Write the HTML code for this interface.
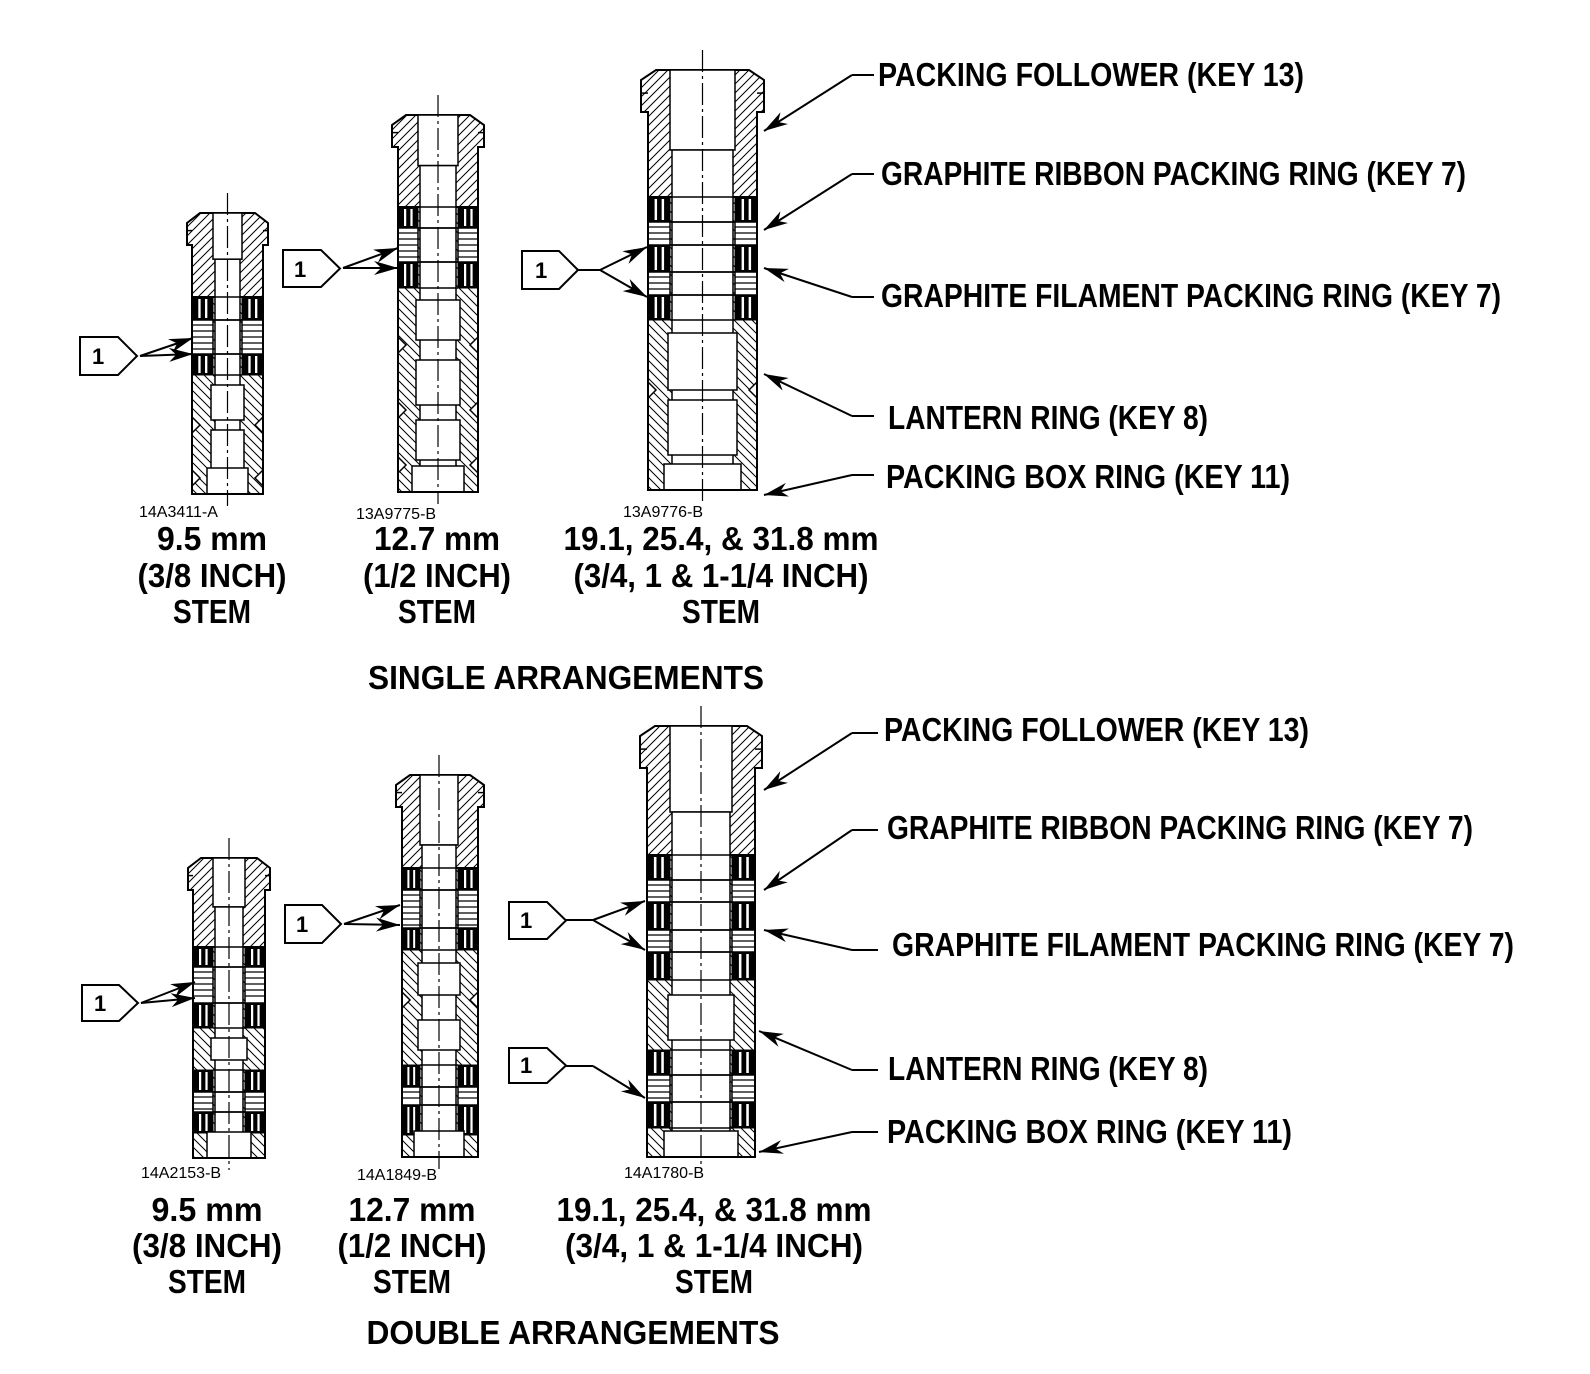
<!DOCTYPE html>
<html><head><meta charset="utf-8">
<style>
html,body{margin:0;padding:0;background:#fff;}
svg{display:block;}
.lb{font-family:"Liberation Sans Narrow","Liberation Sans",sans-serif;font-weight:bold;font-size:33px;fill:#000;}
.dn{font-family:"Liberation Sans",sans-serif;font-size:16px;fill:#000;}
.c1{font-family:"Liberation Sans",sans-serif;font-weight:bold;font-size:22px;fill:#000;}
</style></head>
<body>
<svg id="s" width="1590" height="1374" viewBox="0 0 1590 1374" xmlns="http://www.w3.org/2000/svg">
<defs>
<pattern id="h" patternUnits="userSpaceOnUse" width="9" height="9">
<path d="M-1,1 L1,-1 M0,9 L9,0 M8,10 L10,8" stroke="#000" stroke-width="1"/>
</pattern>
<pattern id="h2" patternUnits="userSpaceOnUse" width="9" height="9">
<path d="M-1,8 L1,10 M0,0 L9,9 M8,-1 L10,1" stroke="#000" stroke-width="1"/>
</pattern>
</defs>
<g id="draw"></g>

<text class="lb" x="878" y="86" textLength="426" lengthAdjust="spacingAndGlyphs">PACKING FOLLOWER (KEY 13)</text>
<text class="lb" x="881" y="185" textLength="585" lengthAdjust="spacingAndGlyphs">GRAPHITE RIBBON PACKING RING (KEY 7)</text>
<text class="lb" x="881" y="307" textLength="620" lengthAdjust="spacingAndGlyphs">GRAPHITE FILAMENT PACKING RING (KEY 7)</text>
<text class="lb" x="888" y="429" textLength="320" lengthAdjust="spacingAndGlyphs">LANTERN RING (KEY 8)</text>
<text class="lb" x="886" y="488" textLength="404" lengthAdjust="spacingAndGlyphs">PACKING BOX RING (KEY 11)</text>
<text class="lb" x="884" y="741" textLength="425" lengthAdjust="spacingAndGlyphs">PACKING FOLLOWER (KEY 13)</text>
<text class="lb" x="887" y="839" textLength="586" lengthAdjust="spacingAndGlyphs">GRAPHITE RIBBON PACKING RING (KEY 7)</text>
<text class="lb" x="892" y="956" textLength="622" lengthAdjust="spacingAndGlyphs">GRAPHITE FILAMENT PACKING RING (KEY 7)</text>
<text class="lb" x="888" y="1080" textLength="320" lengthAdjust="spacingAndGlyphs">LANTERN RING (KEY 8)</text>
<text class="lb" x="887" y="1143" textLength="405" lengthAdjust="spacingAndGlyphs">PACKING BOX RING (KEY 11)</text>

<text class="dn" x="139" y="517">14A3411-A</text>
<text class="dn" x="356" y="519">13A9775-B</text>
<text class="dn" x="623" y="517">13A9776-B</text>
<text class="dn" x="141" y="1178">14A2153-B</text>
<text class="dn" x="357" y="1180">14A1849-B</text>
<text class="dn" x="624" y="1178">14A1780-B</text>

<g class="lb" text-anchor="middle">
<text x="212" y="550" textLength="110" lengthAdjust="spacingAndGlyphs">9.5 mm</text>
<text x="212" y="587" textLength="149" lengthAdjust="spacingAndGlyphs">(3/8 INCH)</text>
<text x="212" y="623" textLength="78" lengthAdjust="spacingAndGlyphs">STEM</text>
<text x="437" y="550" textLength="126" lengthAdjust="spacingAndGlyphs">12.7 mm</text>
<text x="437" y="587" textLength="148" lengthAdjust="spacingAndGlyphs">(1/2 INCH)</text>
<text x="437" y="623" textLength="78" lengthAdjust="spacingAndGlyphs">STEM</text>
<text x="721" y="550" textLength="315" lengthAdjust="spacingAndGlyphs">19.1, 25.4, &amp; 31.8 mm</text>
<text x="721" y="587" textLength="295" lengthAdjust="spacingAndGlyphs">(3/4, 1 &amp; 1-1/4 INCH)</text>
<text x="721" y="623" textLength="78" lengthAdjust="spacingAndGlyphs">STEM</text>
<text x="566" y="689" textLength="396" lengthAdjust="spacingAndGlyphs">SINGLE ARRANGEMENTS</text>
<text x="207" y="1221" textLength="111" lengthAdjust="spacingAndGlyphs">9.5 mm</text>
<text x="207" y="1257" textLength="150" lengthAdjust="spacingAndGlyphs">(3/8 INCH)</text>
<text x="207" y="1293" textLength="78" lengthAdjust="spacingAndGlyphs">STEM</text>
<text x="412" y="1221" textLength="127" lengthAdjust="spacingAndGlyphs">12.7 mm</text>
<text x="412" y="1257" textLength="149" lengthAdjust="spacingAndGlyphs">(1/2 INCH)</text>
<text x="412" y="1293" textLength="78" lengthAdjust="spacingAndGlyphs">STEM</text>
<text x="714" y="1221" textLength="315" lengthAdjust="spacingAndGlyphs">19.1, 25.4, &amp; 31.8 mm</text>
<text x="714" y="1257" textLength="298" lengthAdjust="spacingAndGlyphs">(3/4, 1 &amp; 1-1/4 INCH)</text>
<text x="714" y="1293" textLength="78" lengthAdjust="spacingAndGlyphs">STEM</text>
<text x="573" y="1344" textLength="413" lengthAdjust="spacingAndGlyphs">DOUBLE ARRANGEMENTS</text>
</g>

<g id="calls"></g>
<text class="c1" x="92" y="364">1</text>
<text class="c1" x="294" y="277">1</text>
<text class="c1" x="535" y="278">1</text>
<text class="c1" x="94" y="1011">1</text>
<text class="c1" x="296" y="932">1</text>
<text class="c1" x="520" y="928">1</text>
<text class="c1" x="520" y="1073">1</text>
</svg>
<script>
var NS="http://www.w3.org/2000/svg";
var G=document.getElementById("draw");
function el(t,a,p){var e=document.createElementNS(NS,t);for(var k in a)e.setAttribute(k,a[k]);(p||G).appendChild(e);return e;}
function rect(x,y,w,h,f,sw){return el("rect",{x:x,y:y,width:w,height:h,fill:f||"none",stroke:"#000","stroke-width":sw==null?1.5:sw});}
function line(x1,y1,x2,y2,sw,da){var a={x1:x1,y1:y1,x2:x2,y2:y2,stroke:"#000","stroke-width":sw||1.5};if(da)a["stroke-dasharray"]=da;return el("line",a);}
function stem(o){
 var L=o.L,R=o.R,T=o.T,B=o.B,bl=o.bl,br=o.br,h=o.h,e=o.e||6;
 el("path",{d:"M"+(L-e)+","+(T+h)+" L"+(L-e)+","+(T+10)+" L"+(L+8)+","+T+" L"+(R-8)+","+T+" L"+(R+e)+","+(T+10)+" L"+(R+e)+","+(T+h)+" L"+R+","+(T+h)+" L"+R+","+B+" L"+L+","+B+" L"+L+","+(T+h)+" Z",fill:"url(#h)",stroke:"#000","stroke-width":2});
 line(L-e,T+h*0.55,L,T+h*0.55,1.5);line(R,T+h*0.55,R+e,T+h*0.55,1.5);
 var firstRing=o.rings[0][1];
 el("rect",{x:L,y:firstRing,width:R-L,height:B-firstRing,fill:"#fff"});
 rect(L,firstRing,R-L,B-firstRing,"url(#h2)",2);
 var bt=o.bt||(T+(firstRing-T)*0.55);
 rect(bl,T,br-bl,bt-T,"#fff",1.5);
 rect(bl+2,bt,br-bl-4,B-bt,"#fff",1.5);
 for(var i=0;i<o.bulges.length;i++){var b=o.bulges[i];rect(bl-2,b[0],br-bl+4,b[1]-b[0],"#fff",1.5);}
 for(var i=0;i<o.notch.length;i++){var y=o.notch[i];
   el("path",{d:"M"+L+","+(y-8)+" L"+(L+8)+","+y+" L"+L+","+(y+8)+" Z",fill:"#fff",stroke:"#000","stroke-width":1.5});
   el("path",{d:"M"+R+","+(y-8)+" L"+(R-8)+","+y+" L"+R+","+(y+8)+" Z",fill:"#fff",stroke:"#000","stroke-width":1.5});}
 for(var i=0;i<o.rings.length;i++){var r=o.rings[i],y0=r[1],y1=r[2];
  [[L,bl],[br,R]].forEach(function(s){var x0=s[0],w=s[1]-s[0];
   if(r[0]=="F"){rect(x0,y0,w,y1-y0,"#000",1);
     var sw=Math.max(2,w/9);
     [0.3,0.62].forEach(function(f){el("rect",{x:x0+w*f,y:y0+2,width:sw,height:y1-y0-4,fill:"#fff"});});
   }else{rect(x0,y0,w,y1-y0,"#fff",1.5);
     for(var yy=y0+5;yy<y1-2;yy+=6)line(x0,yy,x0+w,yy,1.2);}
  });
  line(bl,y0,br,y0,1.5);line(bl,y1,br,y1,1.5);
 }
 rect(bl-6,B-26,br-bl+12,26,"#fff",1.5);
 line(L,T+h,L,B,2);line(R,T+h,R,B,2);line(L,B,R,B,2);
 var cx=(bl+br)/2;line(cx,T-20,cx,B+12,1.2,"22,4,3,4");
}
stem({L:192,R:263,T:213,B:494,bl:213,br:242,h:32,e:5,rings:[["F",297,320],["R",320,354],["F",354,375]],bulges:[[385,420],[430,470]],notch:[425,478]});
stem({L:398,R:478,T:115,B:492,bl:418,br:458,h:32,e:6,rings:[["F",207,228],["R",228,262],["F",262,288]],bulges:[[300,340],[360,405],[420,460]],notch:[345,410,465]});
stem({L:648,R:757,T:70,B:490,bl:670,br:735,h:42,e:7,bt:150,rings:[["F",197,222],["R",222,245],["F",245,272],["R",272,295],["F",295,320]],bulges:[[333,390],[400,455]],notch:[390]});
stem({L:193,R:265,T:858,B:1158,bl:213,br:245,h:32,e:5,rings:[["F",947,967],["R",967,1003],["F",1003,1028],["F",1070,1092],["R",1092,1112],["F",1112,1133]],bulges:[[1038,1060]],notch:[]});
stem({L:402,R:478,T:775,B:1157,bl:420,br:458,h:32,e:6,bt:845,rings:[["F",868,890],["R",890,928],["F",928,950],["F",1065,1087],["R",1087,1105],["F",1105,1135]],bulges:[[963,995],[1020,1050]],notch:[1000]});
stem({L:647,R:755,T:726,B:1157,bl:670,br:732,h:42,e:7,bt:812,rings:[["F",855,880],["R",880,902],["F",902,930],["R",930,952],["F",952,980],["F",1050,1075],["R",1075,1102],["F",1102,1128]],bulges:[[995,1040]],notch:[]});

function arrow(x1,y1,x2,y2){line(x1,y1,x2,y2,2);
 var dx=x2-x1,dy=y2-y1,l=Math.sqrt(dx*dx+dy*dy),ux=dx/l,uy=dy/l,L=24,W=7;
 var bx=x2-ux*L,by=y2-uy*L;
 el("path",{d:"M"+x2+","+y2+" L"+(bx-uy*W)+","+(by+ux*W)+" L"+(x2-ux*L*0.7)+","+(y2-uy*L*0.7)+" L"+(bx+uy*W)+","+(by-ux*W)+" Z",fill:"#000"});}
function leader(ex,ey,kx,ky,tx,ty){el("polyline",{points:ex+","+ey+" "+kx+","+ky,fill:"none",stroke:"#000","stroke-width":2});arrow(kx,ky,tx,ty);}
leader(874,75,852,75,764,131);
leader(874,174,852,174,764,230);
leader(874,297,852,297,764,268);
leader(874,416,852,416,764,374);
leader(874,475,852,475,764,495);
leader(878,733,852,733,764,790);
leader(878,830,852,830,764,890);
leader(878,950,852,950,764,930);
leader(878,1070,852,1070,759,1031);
leader(878,1132,852,1132,759,1152);

var C=document.getElementById("calls");
function callout(x1,y1,x2,y2){var m=(y1+y2)/2;el("polygon",{points:x1+","+y1+" "+(x2-19)+","+y1+" "+x2+","+m+" "+(x2-19)+","+y2+" "+x1+","+y2,fill:"#fff",stroke:"#000","stroke-width":2},C);}
callout(80,337,137,375);
arrow(140,356,193,338);arrow(140,356,193,354);
callout(283,250,340,287);
arrow(343,268,398,248);arrow(343,268,398,268);
callout(522,251,578,289);
line(578,270,600,270,2);arrow(600,270,647,247);arrow(600,270,647,297);
callout(82,985,138,1021);
arrow(141,1003,195,982);arrow(141,1003,195,998);
callout(285,905,341,943);
arrow(344,924,400,905);arrow(344,924,400,925);
callout(509,902,566,939);
line(566,920,593,920,2);arrow(593,920,645,901);arrow(593,920,645,950);
callout(509,1048,566,1083);
line(566,1066,593,1066,2);arrow(593,1066,645,1098);
</script>
</body></html>
